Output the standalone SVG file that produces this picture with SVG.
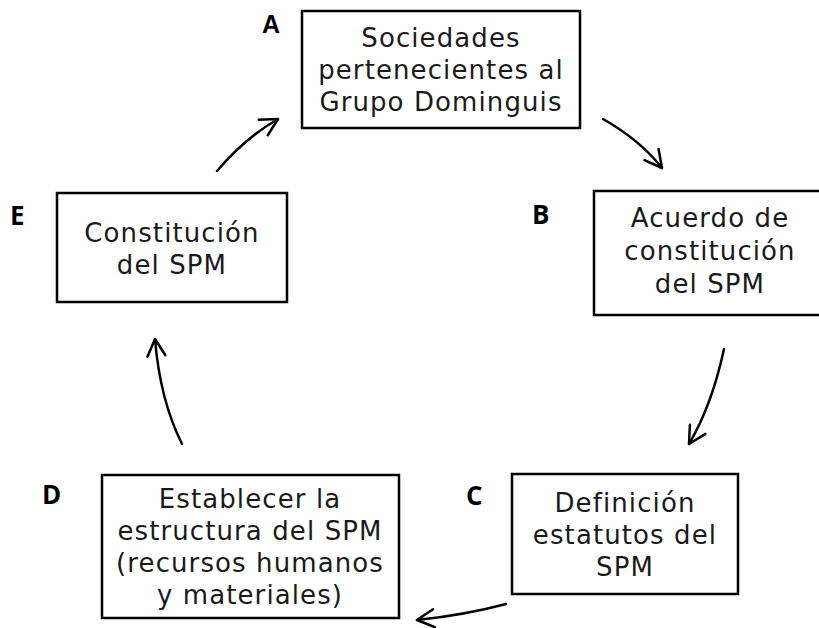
<svg xmlns="http://www.w3.org/2000/svg" width="819" height="628" viewBox="0 0 819 628">
<defs>
<style>
.box{fill:#fff;stroke:#000;stroke-width:2.5}
.t{font-family:"DejaVu Sans","Liberation Sans",sans-serif;font-size:26px;letter-spacing:1.1px;fill:#1a1a1a;text-anchor:middle}
.lbl{font-family:"Open Sans","Liberation Sans",sans-serif;font-weight:bold;font-size:26px;fill:#000}
.arr{fill:none;stroke:#000;stroke-width:2.5;stroke-linecap:round;marker-end:url(#ah)}
</style>
<marker id="ah" viewBox="-22 -14 26 28" refX="0" refY="0" markerWidth="26" markerHeight="28" markerUnits="userSpaceOnUse" orient="auto">
<path d="M-17,-9 L0,0 L-17,9" fill="none" stroke="#000" stroke-width="2.5" stroke-linecap="round" stroke-linejoin="round"/>
</marker>
</defs>
<rect width="819" height="628" fill="#fff"/>
<g id="connectors">
<path class="arr" d="M603,119 Q640,140 662,168"/>
<path class="arr" d="M724,349 Q712,405 689,444"/>
<path class="arr" d="M506,604 Q465,615 417,620"/>
<path class="arr" d="M182,444 Q160,400 155,339"/>
<path class="arr" d="M217,171 Q245,138 278,119"/>
</g>
<g id="A">
<rect class="box" x="302" y="11" width="278" height="117"/>
<text class="lbl" x="262" y="33" style="font-family:'Liberation Sans',sans-serif;font-size:25px">A</text>
<text class="t" x="441" y="47">Sociedades</text>
<text class="t" x="441" y="79">pertenecientes al</text>
<text class="t" x="441" y="111">Grupo Dominguis</text>
</g>
<g id="B">
<rect class="box" x="594" y="191" width="234" height="124"/>
<text class="lbl" x="532" y="224">B</text>
<text class="t" x="710" y="227">Acuerdo  de</text>
<text class="t" x="710" y="260">constitución</text>
<text class="t" x="710" y="293">del SPM</text>
</g>
<g id="C">
<rect class="box" x="512" y="474" width="226" height="120"/>
<text class="lbl" x="466" y="505">C</text>
<text class="t" x="625" y="512">Definición</text>
<text class="t" x="625" y="544">estatutos del</text>
<text class="t" x="625" y="576">SPM</text>
</g>
<g id="D">
<rect class="box" x="102" y="475" width="297" height="143"/>
<text class="lbl" x="42" y="504">D</text>
<text class="t" x="250" y="508">Establecer la</text>
<text class="t" x="250" y="540">estructura del SPM</text>
<text class="t" x="250" y="572">(recursos humanos</text>
<text class="t" x="250" y="604">y materiales)</text>
</g>
<g id="E">
<rect class="box" x="57" y="193" width="230" height="109"/>
<text class="lbl" x="10" y="225">E</text>
<text class="t" x="172" y="242">Constitución</text>
<text class="t" x="172" y="274">del SPM</text>
</g>
</svg>
